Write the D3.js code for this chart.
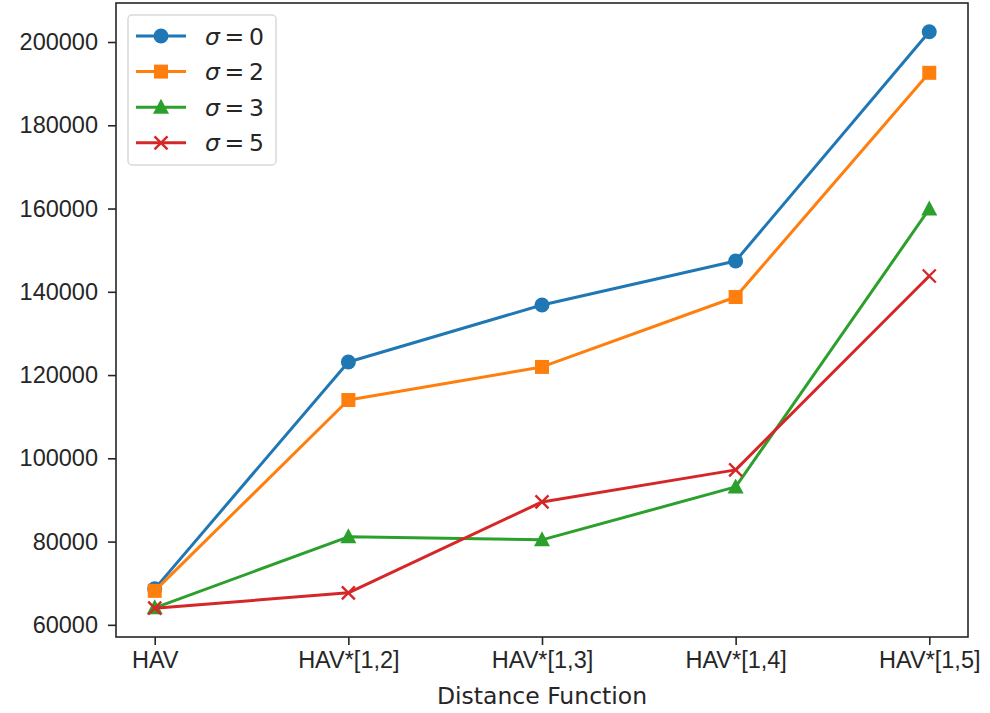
<!DOCTYPE html>
<html>
<head>
<meta charset="utf-8">
<style>
  body { margin: 0; background: #fff; }
  svg { font-family: 'DejaVu Sans', sans-serif; }
  .tick text { font-size: 23.5px; fill: #262626; }
</style>
</head>
<body>
<svg width="990" height="713"></svg>
<script src="https://d3js.org/d3.v7.min.js"></script>
<script>
// data
const categories = ["HAV", "HAV*[1,2]", "HAV*[1,3]", "HAV*[1,4]", "HAV*[1,5]"];
const sigma0 = [68640, 123150, 136830, 147400, 202450];
const sigma2 = [68160, 114000, 121950, 138750, 192600];
const sigma3 = [64080, 81130, 80410, 93130, 159900];
const sigma5 = [64000, 67680, 89530, 97220, 143800];
const yTicks = [60000, 80000, 100000, 120000, 140000, 160000, 180000, 200000];

const series = [
  { label: "0", values: sigma0, color: "#1f77b4", marker: "circle" },
  { label: "2", values: sigma2, color: "#ff7f0e", marker: "square" },
  { label: "3", values: sigma3, color: "#2ca02c", marker: "triangle" },
  { label: "5", values: sigma5, color: "#d62728", marker: "x" }
];

const svg = d3.select("svg");
const margin = { top: 3, right: 22, bottom: 76, left: 116 };
const W = 990, H = 713;

// x: categorical index with matplotlib style 5% padding
const x = d3.scaleLinear()
  .domain([-0.2, categories.length - 1 + 0.2])
  .range([margin.left, W - margin.right]);

const all = series.flatMap(s => s.values);
const lo = d3.min(all), hi = d3.max(all), pad = (hi - lo) * 0.05;
const y = d3.scaleLinear()
  .domain([lo - pad, hi + pad])
  .range([H - margin.bottom, margin.top]);

// axes
svg.append("g")
  .attr("transform", `translate(0,${H - margin.bottom})`)
  .call(d3.axisBottom(x).tickValues(d3.range(categories.length))
    .tickFormat(i => categories[i]).tickSize(8).tickPadding(6))
  .call(g => g.select(".domain").remove())
  .call(g => g.selectAll(".tick line").attr("stroke", "#262626").attr("stroke-width", 1.6));

svg.append("g")
  .attr("transform", `translate(${margin.left},0)`)
  .call(d3.axisLeft(y).tickValues(yTicks).tickFormat(d3.format("d")).tickSize(8).tickPadding(10))
  .call(g => g.select(".domain").remove())
  .call(g => g.selectAll(".tick line").attr("stroke", "#262626").attr("stroke-width", 1.6));

// frame
svg.append("rect")
  .attr("x", margin.left).attr("y", margin.top)
  .attr("width", W - margin.right - margin.left)
  .attr("height", H - margin.bottom - margin.top)
  .attr("fill", "none").attr("stroke", "#262626").attr("stroke-width", 1.6);

svg.append("text")
  .attr("x", (margin.left + W - margin.right) / 2)
  .attr("y", 704)
  .attr("text-anchor", "middle")
  .attr("font-size", 23.5).attr("fill", "#262626")
  .text("Distance Function");

function drawMarker(g, type, color, cx, cy) {
  if (type === "circle") {
    g.append("circle").attr("cx", cx).attr("cy", cy).attr("r", 7.5).attr("fill", color);
  } else if (type === "square") {
    g.append("rect").attr("x", cx - 7).attr("y", cy - 7).attr("width", 14).attr("height", 14).attr("fill", color);
  } else if (type === "triangle") {
    g.append("path").attr("d", `M${cx},${cy - 8.5}L${cx + 8},${cy + 6.5}L${cx - 8},${cy + 6.5}Z`).attr("fill", color);
  } else {
    g.append("path").attr("d", `M${cx - 6.5},${cy - 6.5}L${cx + 6.5},${cy + 6.5}M${cx - 6.5},${cy + 6.5}L${cx + 6.5},${cy - 6.5}`)
      .attr("stroke", color).attr("stroke-width", 2.4).attr("fill", "none");
  }
}

const line = d3.line().x((d, i) => x(i)).y(d => y(d));

series.forEach(s => {
  const g = svg.append("g");
  g.append("path").attr("d", line(s.values))
    .attr("fill", "none").attr("stroke", s.color).attr("stroke-width", 3)
    .attr("stroke-linejoin", "round");
  s.values.forEach((v, i) => drawMarker(g, s.marker, s.color, x(i), y(v)));
});

// legend
const leg = svg.append("g");
leg.append("rect").attr("x", 128).attr("y", 15).attr("width", 148).attr("height", 150)
  .attr("rx", 4).attr("fill", "white").attr("fill-opacity", 0.8)
  .attr("stroke", "#d9d9d9").attr("stroke-width", 1.5);

series.forEach((s, i) => {
  const cy = 36 + i * 35.6;
  leg.append("line").attr("x1", 136).attr("x2", 186).attr("y1", cy).attr("y2", cy)
    .attr("stroke", s.color).attr("stroke-width", 3);
  drawMarker(leg, s.marker, s.color, 161, cy);
  const t = leg.append("text").attr("x", 205).attr("y", cy + 8.5)
    .attr("font-size", 23.5).attr("fill", "#262626");
  t.append("tspan").attr("font-style", "italic").text("σ");
  t.append("tspan").text("\u2009=\u2009" + s.label);
});
</script>
</body>
</html>
